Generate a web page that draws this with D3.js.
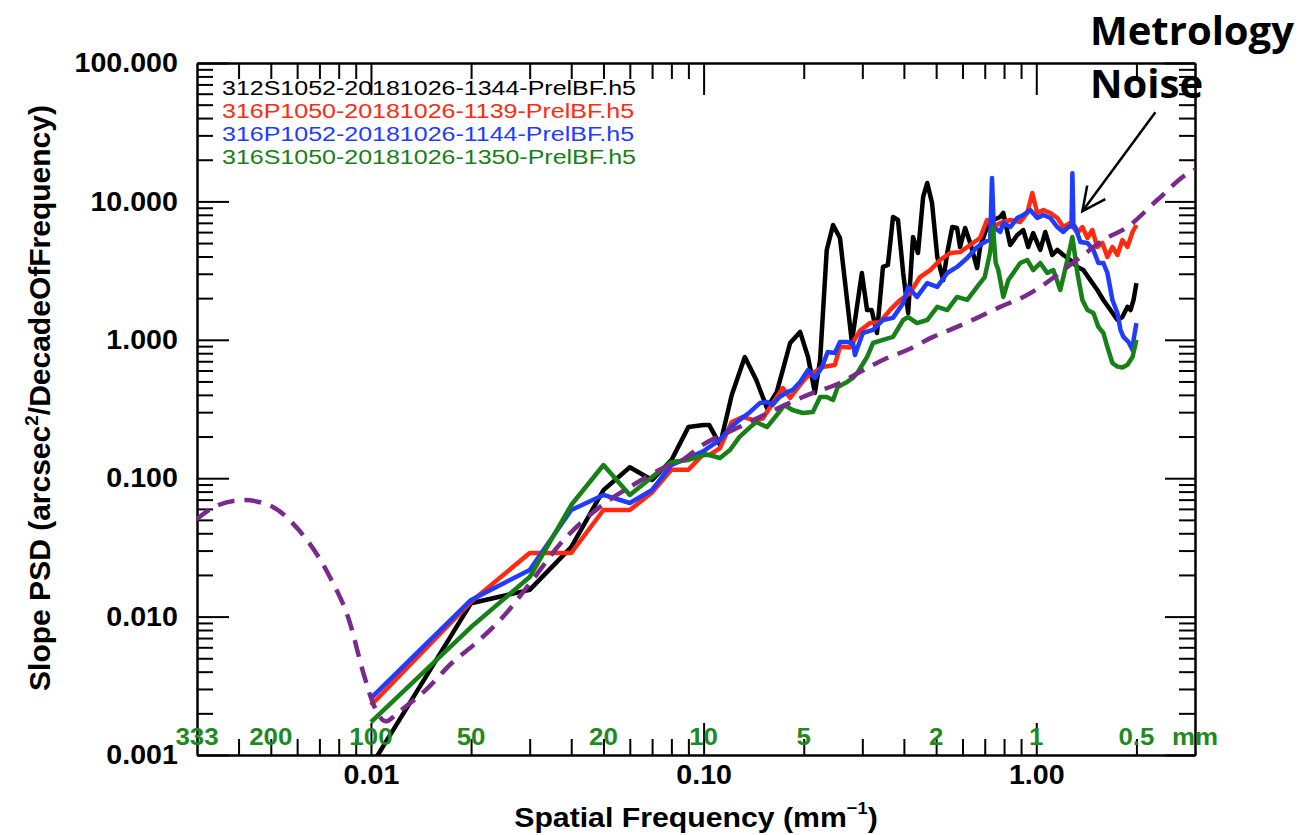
<!DOCTYPE html>
<html><head><meta charset="utf-8">
<script src="https://cdn.jsdelivr.net/npm/d3@7"></script>
<style>body{margin:0;background:#fff;} svg{display:block;}</style>
</head><body>
<svg id="chart" width="1301" height="835"></svg>
<script>
// ---------- data ----------
const xDomain = [0.003, 3];
const yDomain = [0.001, 100];
const xTickValues = [0.01, 0.1, 1];
const xTickLabels = ["0.01", "0.10", "1.00"];
const yTickValues = [0.001, 0.01, 0.1, 1, 10, 100];
const yTickLabels = ["0.001", "0.010", "0.100", "1.000", "10.000", "100.000"];
const periodValues = [0.003, 0.005, 0.01, 0.02, 0.05, 0.1, 0.2, 0.5, 1, 2];
const periodLabels = ["333", "200", "100", "50", "20", "10", "5", "2", "1", "0.5"];
const periodUnit = "mm";
const seriesNames = ["312S1052-20181026-1344-PrelBF.h5", "316P1050-20181026-1139-PrelBF.h5",
                     "316P1052-20181026-1144-PrelBF.h5", "316S1050-20181026-1350-PrelBF.h5"];
const seriesColors = ["#000000", "#ff2a10", "#1f3cff", "#178017"];

const black = [[0.01,0.00083],[0.02,0.0125],[0.03,0.0156],[0.04,0.0318],[0.05,0.082],[0.06,0.120],[0.07,0.097],[0.08,0.135],[0.09,0.234],[0.1,0.242],[0.104,0.242],[0.112,0.174],[0.1215,0.399],[0.133,0.751],[0.144,0.512],[0.155,0.322],[0.166,0.42],[0.182,0.948],[0.195,1.14],[0.206,0.751],[0.216,0.413],[0.224,0.715],[0.2345,4.46],[0.245,6.75],[0.257,5.44],[0.279,0.964],[0.299,3.04],[0.31,1.64],[0.32,1.64],[0.332,1.12],[0.346,3.36],[0.358,3.47],[0.371,7.72],[0.384,7.34],[0.398,3.04],[0.412,1.56],[0.426,5.53],[0.441,4.24],[0.457,10.76],[0.47,13.58],[0.486,9.74],[0.504,3.97],[0.525,2.70],[0.54,4.24],[0.559,6.53],[0.578,6.42],[0.59,4.68],[0.611,6.42],[0.633,5.01],[0.664,3.30],[0.678,4.68],[0.711,6.53],[0.742,7.34],[0.779,7.72],[0.796,8.25],[0.835,4.84],[0.877,5.72],[0.914,6.21],[0.946,4.68],[0.979,5.91],[1.028,4.46],[1.064,6.01],[1.117,4.10],[1.157,4.46],[1.206,4.10],[1.266,3.77],[1.329,3.36],[1.385,3.19],[1.454,2.70],[1.526,2.29],[1.591,1.94],[1.671,1.64],[1.754,1.39],[1.815,1.46],[1.88,1.73],[1.92,1.64],[1.961,1.94],[2.0,2.57]];

const red = [[0.01,0.00229],[0.02,0.0128],[0.03,0.0288],[0.04,0.0288],[0.05,0.0589],[0.06,0.0589],[0.07,0.079],[0.08,0.115],[0.09,0.115],[0.1,0.150],[0.104,0.147],[0.112,0.165],[0.1215,0.255],[0.131,0.277],[0.141,0.263],[0.1505,0.27],[0.158,0.322],[0.173,0.448],[0.182,0.38],[0.195,0.472],[0.204,0.538],[0.228,0.636],[0.248,0.658],[0.257,0.89],[0.275,0.88],[0.295,1.16],[0.316,1.32],[0.339,1.34],[0.363,1.64],[0.39,1.94],[0.4175,2.18],[0.447,2.84],[0.48,3.19],[0.514,3.77],[0.551,4.24],[0.59,4.3],[0.6325,4.84],[0.678,5.44],[0.711,7.34],[0.7415,6.53],[0.779,6.98],[0.835,7.34],[0.895,7.10],[0.9395,8.25],[0.9726,11.5],[1.007,8.25],[1.05,8.67],[1.102,8.25],[1.157,7.59],[1.206,6.53],[1.266,6.98],[1.329,5.91],[1.376,6.53],[1.425,5.44],[1.474,6.21],[1.526,4.68],[1.58,5.01],[1.636,3.97],[1.694,4.68],[1.754,4.10],[1.815,5.26],[1.88,4.68],[1.947,6.01],[2.0,6.75]];

const blue = [[0.01,0.00258],[0.02,0.0132],[0.03,0.0217],[0.04,0.0589],[0.05,0.0757],[0.06,0.0662],[0.07,0.0822],[0.08,0.1245],[0.09,0.140],[0.1,0.157],[0.104,0.168],[0.112,0.189],[0.12,0.23],[0.128,0.263],[0.138,0.301],[0.1475,0.349],[0.156,0.355],[0.161,0.338],[0.169,0.386],[0.179,0.42],[0.185,0.434],[0.195,0.496],[0.206,0.605],[0.216,0.53],[0.227,0.636],[0.236,0.816],[0.248,0.803],[0.257,0.964],[0.27,0.964],[0.281,0.948],[0.285,0.777],[0.301,1.12],[0.323,1.18],[0.346,1.39],[0.371,1.44],[0.398,1.84],[0.412,2.41],[0.438,2.04],[0.47,2.57],[0.504,2.41],[0.54,3.04],[0.578,3.36],[0.62,3.90],[0.664,4.68],[0.692,5.01],[0.727,5.3],[0.736,14.76],[0.745,6.5],[0.779,6.01],[0.796,6.98],[0.835,6.53],[0.877,7.59],[0.914,7.98],[0.959,8.67],[1.007,7.59],[1.05,7.98],[1.102,7.59],[1.157,6.53],[1.206,6.01],[1.248,6.53],[1.276,6.6],[1.284,16.0],[1.293,6.8],[1.31,6.53],[1.357,5.09],[1.425,5.01],[1.485,4.46],[1.537,3.59],[1.591,3.59],[1.636,3.04],[1.694,1.94],[1.754,1.56],[1.791,1.18],[1.828,1.05],[1.893,0.964],[1.947,0.844],[1.961,1.0],[2.0,1.32]];

const green = [[0.01,0.00173],[0.02,0.0084],[0.03,0.0193],[0.04,0.064],[0.05,0.1245],[0.06,0.0757],[0.07,0.102],[0.08,0.131],[0.09,0.1355],[0.1,0.147],[0.104,0.147],[0.112,0.14],[0.12,0.16],[0.128,0.198],[0.138,0.234],[0.144,0.255],[0.155,0.234],[0.166,0.286],[0.175,0.338],[0.185,0.311],[0.199,0.296],[0.213,0.301],[0.224,0.386],[0.2345,0.386],[0.245,0.367],[0.253,0.456],[0.27,0.496],[0.281,0.53],[0.291,0.585],[0.31,0.751],[0.323,0.948],[0.346,1.0],[0.371,1.05],[0.398,1.39],[0.412,1.46],[0.438,1.32],[0.47,1.39],[0.504,1.73],[0.54,1.64],[0.578,2.04],[0.62,1.94],[0.664,2.41],[0.70,2.84],[0.726,4.24],[0.7415,6.53],[0.755,3.6],[0.769,3.19],[0.796,2.04],[0.824,2.70],[0.853,3.04],[0.895,3.59],[0.94,3.77],[0.979,3.19],[1.028,3.59],[1.079,3.04],[1.125,3.19],[1.181,2.29],[1.24,3.77],[1.284,5.53],[1.329,3.04],[1.376,1.94],[1.425,1.64],[1.485,1.56],[1.537,1.24],[1.591,1.12],[1.636,0.887],[1.694,0.68],[1.754,0.64],[1.815,0.63],[1.88,0.66],[1.947,0.75],[2.0,1.0]];

const model = [[0.00297,0.0499],[0.00348,0.064],[0.00414,0.0695],[0.00493,0.064],[0.00607,0.0422],[0.00747,0.020],[0.00859,0.00945],[0.00953,0.00378],[0.0102,0.00229],[0.0111,0.00175],[0.0121,0.00204],[0.0146,0.00294],[0.0175,0.00462],[0.0207,0.00645],[0.0248,0.0098],[0.0306,0.0184],[0.0368,0.0329],[0.0444,0.0515],[0.0532,0.072],[0.0628,0.0923],[0.0737,0.115],[0.0864,0.135],[0.0972,0.168],[0.128,0.234],[0.213,0.413],[0.257,0.488],[0.295,0.585],[0.356,0.739],[0.409,0.844],[0.49,1.05],[0.578,1.24],[0.664,1.44],[0.779,1.73],[0.914,2.04],[1.05,2.49],[1.206,3.19],[1.385,4.10],[1.591,5.26],[1.88,6.53],[2.31,10.23],[2.87,16.04],[3.0,16.9]];

const annotationLines = ["Metrology", "Noise"];
const annotationPoint = [1.376, 8.5];

// ---------- layout ----------
const W = 1301, H = 835;
const margin = {left: 197, right: 106, top: 63, bottom: 80};
const svg = d3.select("#chart");
const x = d3.scaleLog().domain(xDomain).range([margin.left, W - margin.right]);
const y = d3.scaleLog().domain(yDomain).range([H - margin.bottom, margin.top]);
const FONT = "'Liberation Sans', Arial, Helvetica, sans-serif";
const SX = 1.06;

const minorX = x.ticks().filter(d => !xTickValues.some(v => Math.abs(v - d) / v < 1e-6) && d > xDomain[0] * 1.0001 && d < xDomain[1] * 0.9999);
const minorY = y.ticks().filter(d => !yTickValues.some(v => Math.abs(v - d) / v < 1e-6));

function styleAxis(g) {
  g.selectAll("path.domain").attr("stroke", "#000").attr("stroke-width", 2);
  g.selectAll(".tick line").attr("stroke", "#000").attr("stroke-width", 2);
}

const x0 = margin.left, x1 = W - margin.right, y0 = margin.top, y1 = H - margin.bottom;

// bottom
const gB = svg.append("g").attr("transform", `translate(0,${y1})`);
gB.call(d3.axisBottom(x).tickValues(xTickValues).tickFormat((d, i) => xTickLabels[i]).tickSizeInner(-32).tickSizeOuter(0).tickPadding(10));
gB.append("g").call(d3.axisBottom(x).tickValues(minorX).tickFormat("").tickSizeInner(-16).tickSizeOuter(0));
styleAxis(gB);
gB.selectAll("text").attr("font-size", 27).attr("font-weight", "bold").attr("font-family", FONT).attr("fill", "#000").attr("transform", `scale(${SX},1)`);

// top
const gT = svg.append("g").attr("transform", `translate(0,${y0})`);
gT.call(d3.axisTop(x).tickValues(xTickValues).tickFormat("").tickSizeInner(-32).tickSizeOuter(0));
gT.append("g").call(d3.axisTop(x).tickValues(minorX).tickFormat("").tickSizeInner(-16).tickSizeOuter(0));
styleAxis(gT);

// left
const gL = svg.append("g").attr("transform", `translate(${x0},0)`);
gL.call(d3.axisLeft(y).tickValues(yTickValues).tickFormat((d, i) => yTickLabels[i]).tickSizeInner(-32).tickSizeOuter(0).tickPadding(18));
gL.append("g").call(d3.axisLeft(y).tickValues(minorY).tickFormat("").tickSizeInner(-16).tickSizeOuter(0));
styleAxis(gL);
gL.selectAll("text").attr("font-size", 27).attr("font-weight", "bold").attr("font-family", FONT).attr("fill", "#000").attr("transform", `scale(${SX},1)`);

// right
const gR = svg.append("g").attr("transform", `translate(${x1},0)`);
gR.call(d3.axisRight(y).tickValues(yTickValues).tickFormat("").tickSizeInner(-30).tickSizeOuter(0));
gR.append("g").call(d3.axisRight(y).tickValues(minorY).tickFormat("").tickSizeInner(-16).tickSizeOuter(0));
styleAxis(gR);

// clip
svg.append("clipPath").attr("id", "plotclip").append("rect")
  .attr("x", x0).attr("y", y0).attr("width", x1 - x0).attr("height", y1 - y0);

const line = d3.line().x(d => x(d[0])).y(d => y(d[1]));
const plot = svg.append("g").attr("clip-path", "url(#plotclip)");
[black, red, blue, green].forEach((s, i) => {
  plot.append("path").datum(s).attr("d", line).attr("fill", "none")
    .attr("stroke", seriesColors[i]).attr("stroke-width", 4.5).attr("stroke-linejoin", "round");
});
plot.append("path").datum(model)
  .attr("d", d3.line().x(d => x(d[0])).y(d => y(d[1])).curve(d3.curveMonotoneX))
  .attr("fill", "none").attr("stroke", "#7a2a8a").attr("stroke-width", 4.5).attr("stroke-dasharray", "17,10");

function txt(px, py, str, o) {
  const t = svg.append("text")
    .attr("transform", `translate(${px},${py}) scale(${o.sx || 1},1)`)
    .attr("text-anchor", o.anchor || "start")
    .attr("font-family", o.family || FONT)
    .attr("font-size", o.size)
    .attr("font-weight", o.weight || "normal")
    .attr("fill", o.fill || "#000")
    .text(str);
  return t;
}

// legend
seriesNames.forEach((n, i) => {
  txt(222, 95 + i * 23, n, {size: 20, sx: 1.25, fill: seriesColors[i]});
});

// period labels
periodValues.forEach((p, i) => {
  txt(x(p), 745, periodLabels[i], {size: 24, sx: 1.08, weight: "bold", anchor: "middle", fill: "#1f8a1f"});
});
txt(x1, 745, periodUnit, {size: 24, sx: 1.08, weight: "bold", anchor: "middle", fill: "#1f8a1f"});

// x label
const xl = txt(696, 827, "", {size: 28, sx: 1.08, weight: "bold", anchor: "middle"});
xl.append("tspan").text("Spatial Frequency (mm");
xl.append("tspan").attr("dy", -13).attr("font-size", 17).text("\u22121");
xl.append("tspan").attr("dy", 13).text(")");

// y label
const yl = svg.append("text").attr("transform", "translate(50,398) rotate(-90)")
  .attr("text-anchor", "middle").attr("font-family", FONT).attr("font-size", 30).attr("font-weight", "bold");
yl.append("tspan").text("Slope PSD (arcsec");
yl.append("tspan").attr("dy", -12).attr("font-size", 19).text("2");
yl.append("tspan").attr("dy", 12).text("/DecadeOfFrequency)");

// annotation
txt(1090, 45, annotationLines[0], {size: 40, weight: "bold", family: "'Open Sans', sans-serif"});
txt(1090, 98, annotationLines[1], {size: 40, weight: "bold", family: "'Open Sans', sans-serif"});
const tip = [x(annotationPoint[0]), y(annotationPoint[1])];
const tail = [tip[0] + 73, tip[1] - 99];
svg.append("line").attr("x1", tail[0]).attr("y1", tail[1]).attr("x2", tip[0]).attr("y2", tip[1])
  .attr("stroke", "#000").attr("stroke-width", 2.5);
const ang = Math.atan2(tail[1] - tip[1], tail[0] - tip[0]);
const wl = 26, wa = 0.45;
const wing = a => [tip[0] + wl * Math.cos(a), tip[1] + wl * Math.sin(a)];
const w1 = wing(ang + wa), w2 = wing(ang - wa);
svg.append("path").attr("d", `M${w1[0]},${w1[1]}L${tip[0]},${tip[1]}L${w2[0]},${w2[1]}`)
  .attr("fill", "none").attr("stroke", "#000").attr("stroke-width", 2.5);
</script>
</body></html>
